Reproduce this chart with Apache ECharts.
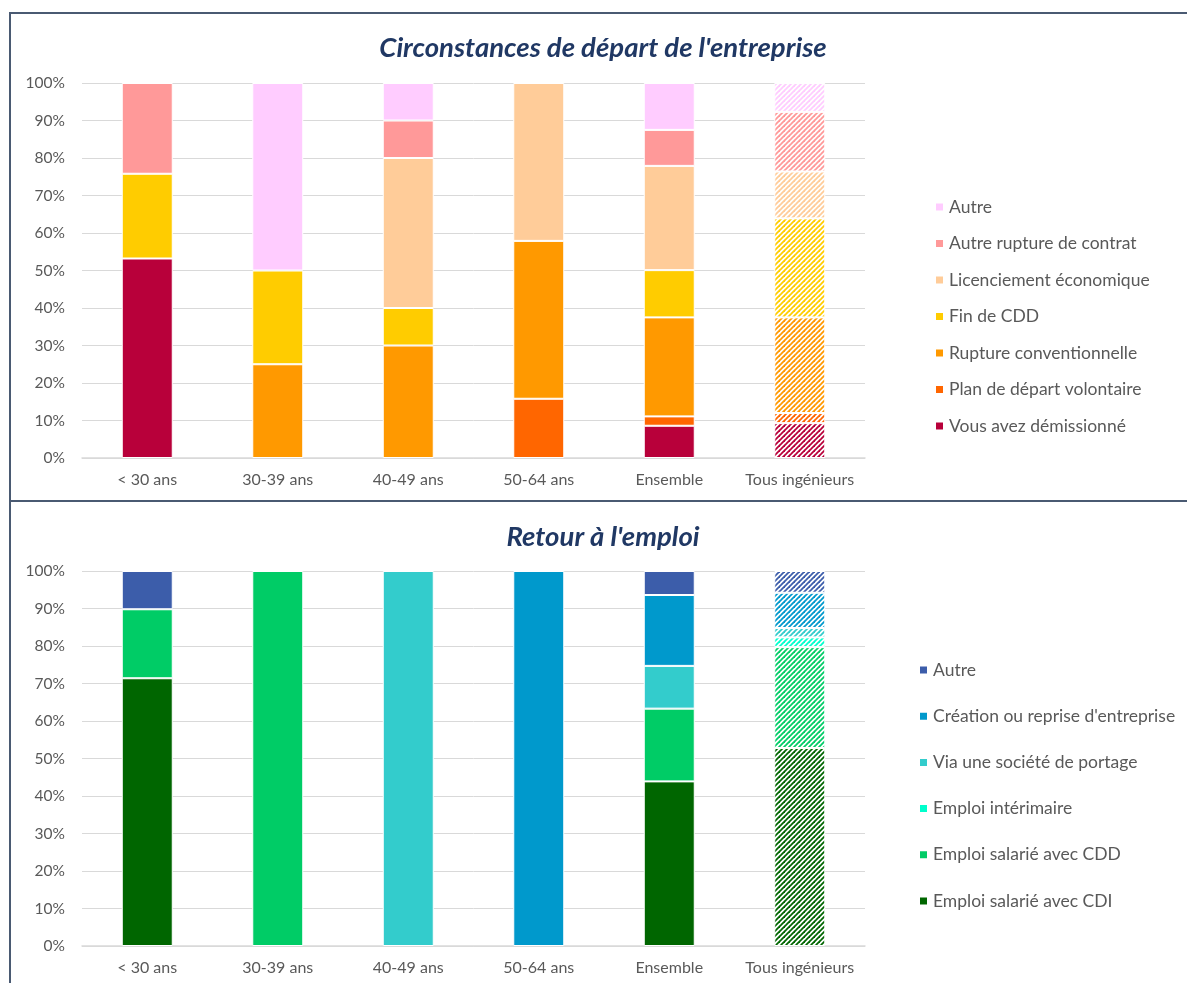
<!DOCTYPE html>
<html>
<head>
<meta charset="utf-8">
<script src="https://cdn.jsdelivr.net/npm/echarts@6/dist/echarts.min.js"></script>
<style>
  html, body { margin: 0; padding: 0; background: #fff; }
  #wrap { position: relative; width: 1187px; height: 983px; overflow: hidden; }
  #chartTop { position: absolute; left: 0; top: 0; width: 1187px; height: 501px; }
  #chartBottom { position: absolute; left: 0; top: 501px; width: 1187px; height: 482px; }
  .line { position: absolute; background: #4a5a72; }
</style>
</head>
<body>
<div id="wrap">
  <div id="chartTop"></div>
  <div id="chartBottom"></div>
  <div class="line" style="left:9px;top:12px;width:1178px;height:2px;"></div>
  <div class="line" style="left:9px;top:12px;width:2px;height:971px;"></div>
  <div class="line" style="left:9px;top:500px;width:1178px;height:2px;"></div>
</div>
<script>
  var categories = ['< 30 ans', '30-39 ans', '40-49 ans', '50-64 ans', 'Ensemble', 'Tous ingénieurs'];
  var yTicks = [0, 10, 20, 30, 40, 50, 60, 70, 80, 90, 100];

  // circonstances de départ (%), de bas en haut
  var demission    = [53.2, 0, 0, 0, 8.6, 9.3];
  var planDepart   = [0, 0, 0, 15.8, 2.5, 2.7];
  var ruptureConv  = [0, 25, 30, 42.1, 26.4, 25.5];
  var finCdd       = [22.6, 25, 10, 0, 12.6, 26.4];
  var licenciement = [0, 0, 40, 42.1, 27.8, 12.5];
  var autreRupture = [24.2, 0, 10, 0, 9.6, 15.9];
  var autreDepart  = [0, 50, 10, 0, 12.5, 7.7];

  // retour à l'emploi (%), de bas en haut
  var empCdi      = [71.4, 0, 0, 0, 43.9, 52.8];
  var empCdd      = [18.4, 100, 0, 0, 19.4, 26.9];
  var empInterim  = [0, 0, 0, 0, 0, 2.6];
  var empPortage  = [0, 0, 100, 0, 11.4, 2.5];
  var empCreation = [0, 0, 0, 100, 18.9, 9.4];
  var empAutre    = [10.2, 0, 0, 0, 6.4, 5.8];

  var FONT = 'Lato, "DejaVu Sans", sans-serif';
  var GRAY = '#595959';

  // hachures pour la barre "Tous ingénieurs"
  function hatch(color) {
    var n = 5;
    var c = document.createElement('canvas');
    c.width = n; c.height = n;
    var ctx = c.getContext('2d');
    ctx.fillStyle = '#fff';
    ctx.fillRect(0, 0, n, n);
    ctx.strokeStyle = color;
    ctx.lineWidth = 1.8;
    for (var o = -n; o <= n; o += n) {
      ctx.beginPath();
      ctx.moveTo(o - 1, n + 1);
      ctx.lineTo(o + n + 1, -1);
      ctx.stroke();
    }
    return { image: c, repeat: 'repeat' };
  }

  function makeSeries(name, values, color) {
    var pattern = hatch(color);
    return {
      name: name,
      type: 'bar',
      stack: 'total',
      barWidth: 51,
      itemStyle: { color: color, borderColor: '#fff', borderWidth: 1 },
      emphasis: { disabled: true },
      data: values.map(function (v, i) {
        var val = v === 0 ? '-' : v;
        if (i === categories.length - 1) {
          return { value: val, itemStyle: { color: pattern } };
        }
        return val;
      })
    };
  }

  function baseOption(title, titleTop, gridTop, legendNames, legendTop, legendLeft, legendGap) {
    return {
      animation: false,
      textStyle: { fontFamily: FONT },
      title: {
        text: title,
        left: 598,
        textAlign: 'center',
        top: titleTop,
        textStyle: { fontFamily: FONT, fontSize: 27.5, fontWeight: 'bold', fontStyle: 'italic', color: '#203864' }
      },
      legend: {
        orient: 'vertical',
        left: legendLeft,
        top: legendTop,
        itemWidth: 9,
        itemHeight: 9,
        itemGap: legendGap,
        icon: 'rect',
        selectedMode: false,
        data: legendNames,
        textStyle: { fontFamily: FONT, fontSize: 17.5, color: GRAY, lineHeight: 18 }
      },
      grid: { left: 82, right: 322, top: gridTop, height: 375 },
      xAxis: {
        type: 'category',
        data: categories,
        axisTick: { show: false },
        axisLine: { lineStyle: { color: '#d9d9d9', width: 1.5 } },
        axisLabel: { fontFamily: FONT, fontSize: 16, color: GRAY, margin: 14, interval: 0 }
      },
      yAxis: {
        type: 'value',
        min: yTicks[0],
        max: yTicks[yTicks.length - 1],
        interval: yTicks[1] - yTicks[0],
        axisLine: { show: false },
        axisTick: { show: false },
        splitLine: { lineStyle: { color: '#d9d9d9', width: 1 } },
        axisLabel: { fontFamily: FONT, fontSize: 15.5, color: GRAY, margin: 17, formatter: '{value}%' }
      }
    };
  }

  var chartTop = echarts.init(document.getElementById('chartTop'));
  var topSeries = [
    makeSeries('Vous avez démissionné', demission, '#b8003a'),
    makeSeries('Plan de départ volontaire', planDepart, '#ff6600'),
    makeSeries('Rupture conventionnelle', ruptureConv, '#ff9900'),
    makeSeries('Fin de CDD', finCdd, '#ffcc00'),
    makeSeries('Licenciement économique', licenciement, '#ffcc99'),
    makeSeries('Autre rupture de contrat', autreRupture, '#ff9999'),
    makeSeries('Autre', autreDepart, '#ffccff')
  ];
  var optTop = baseOption("Circonstances de départ de l'entreprise", 30, 83,
    topSeries.map(function (s) { return s.name; }).reverse(), 193, 929, 18.5);
  optTop.series = topSeries;
  chartTop.setOption(optTop);

  var chartBottom = echarts.init(document.getElementById('chartBottom'));
  var bottomSeries = [
    makeSeries('Emploi salarié avec CDI', empCdi, '#006600'),
    makeSeries('Emploi salarié avec CDD', empCdd, '#00cc66'),
    makeSeries('Emploi intérimaire', empInterim, '#00ffcc'),
    makeSeries('Via une société de portage', empPortage, '#33cccc'),
    makeSeries("Création ou reprise d'entreprise", empCreation, '#0099cc'),
    makeSeries('Autre', empAutre, '#3c5daa')
  ];
  var optBottom = baseOption("Retour à l'emploi", 18, 70,
    bottomSeries.map(function (s) { return s.name; }).reverse(), 155, 913, 28.2);
  optBottom.series = bottomSeries;
  chartBottom.setOption(optBottom);
</script>
</body>
</html>
